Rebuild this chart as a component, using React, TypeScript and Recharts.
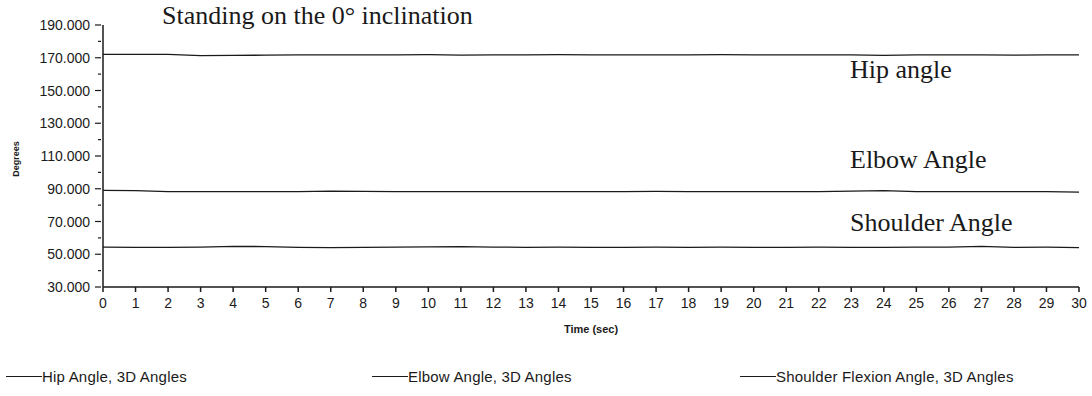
import { LineChart, Line, XAxis, YAxis, Legend } from "recharts";

// time in seconds
const seconds = [
  0, 1, 2, 3, 4, 5, 6, 7, 8, 9, 10, 11, 12, 13, 14, 15, 16, 17, 18, 19, 20,
  21, 22, 23, 24, 25, 26, 27, 28, 29, 30,
];

// joint angles in degrees
const hipAngle = [
  172.0, 172.1, 172.1, 171.3, 171.4, 171.6, 171.7, 171.8, 171.7, 171.8, 171.9,
  171.6, 171.8, 171.8, 171.9, 171.7, 171.8, 171.8, 171.7, 171.9, 171.8, 171.7,
  171.8, 171.8, 171.5, 171.7, 171.8, 171.7, 171.6, 171.8, 171.7,
];
const elbowAngle = [
  89.0, 88.9, 88.3, 88.2, 88.2, 88.3, 88.3, 88.6, 88.4, 88.3, 88.3, 88.2, 88.3,
  88.2, 88.3, 88.3, 88.2, 88.4, 88.3, 88.2, 88.3, 88.2, 88.3, 88.6, 88.9, 88.3,
  88.2, 88.3, 88.2, 88.2, 88.0,
];
const shoulderAngle = [
  54.3, 54.2, 54.2, 54.3, 54.8, 54.7, 54.2, 54.1, 54.2, 54.3, 54.5, 54.7, 54.4,
  54.2, 54.3, 54.2, 54.2, 54.3, 54.2, 54.3, 54.2, 54.2, 54.3, 54.2, 54.2, 54.3,
  54.4, 54.8, 54.2, 54.3, 54.1,
];

const yTicks = [30, 40, 50, 60, 70, 80, 90, 100, 110, 120, 130, 140, 150, 160, 170, 180, 190];
const yLabelled = [30, 50, 70, 90, 110, 130, 150, 170, 190];

const legendNames = [
  "Hip Angle, 3D Angles",
  "Elbow Angle, 3D Angles",
  "Shoulder Flexion Angle, 3D Angles",
];
const legendX = [6, 372, 740];

const data = seconds.map((t, i) => ({
  t,
  hip: hipAngle[i],
  elbow: elbowAngle[i],
  shoulder: shoulderAngle[i],
}));

const INK = "#1a1a1a";
const SANS = "'Liberation Sans', Arial, sans-serif";
const SERIF = "'Liberation Serif', 'Times New Roman', serif";

function YTick(props: any) {
  const { x, y, payload } = props;
  const major = yLabelled.includes(payload.value);
  const axisX = x + 6;
  return (
    <g>
      <line x1={axisX - (major ? 6 : 3)} x2={axisX} y1={y} y2={y} stroke={INK} strokeWidth={1.2} />
      {major && (
        <text x={axisX - 11} y={y} dy={5} textAnchor="end" fontSize={14} fontFamily={SANS} fill={INK}>
          {payload.value.toFixed(3)}
        </text>
      )}
    </g>
  );
}

function DegreesLabel(props: any) {
  const { viewBox } = props;
  const cy = viewBox.y + viewBox.height / 2 + 3;
  return (
    <text
      x={19}
      y={cy}
      transform={`rotate(-90 19 ${cy})`}
      textAnchor="middle"
      fontSize={9}
      fontWeight="bold"
      fontFamily={SANS}
      fill={INK}
    >
      Degrees
    </text>
  );
}

function LegendRow() {
  return (
    <div style={{ position: "relative", width: 1092, height: 30 }}>
      {legendNames.map((name, i) => (
        <div
          key={name}
          style={{
            position: "absolute",
            left: legendX[i],
            top: 2,
            display: "flex",
            alignItems: "center",
            fontFamily: SANS,
            fontSize: 15,
            letterSpacing: 0.2,
            color: INK,
          }}
        >
          <span style={{ display: "inline-block", width: 36, height: 1, background: INK }} />
          {name}
        </div>
      ))}
    </div>
  );
}

const serifText = {
  position: "absolute" as const,
  fontFamily: SERIF,
  fontSize: 26,
  color: INK,
  whiteSpace: "nowrap" as const,
  lineHeight: 1,
};

export default function App() {
  return (
    <div style={{ position: "absolute", left: 0, top: 0, width: 1092, height: 396, background: "#fff" }}>
      <LineChart width={1092} height={396} data={data} margin={{ top: 25, right: 13, bottom: 0, left: 0 }}>
        <XAxis
          dataKey="t"
          type="number"
          domain={[0, 30]}
          ticks={seconds}
          interval={0}
          height={79}
          stroke={INK}
          strokeWidth={1.5}
          tickSize={5}
          tickMargin={6}
          tick={{ fontSize: 14, fontFamily: SANS, fill: INK }}
          label={{
            value: "Time (sec)",
            position: "insideTop",
            offset: 38,
            fontSize: 11,
            fontWeight: "bold",
            fontFamily: SANS,
            fill: INK,
          }}
        />
        <YAxis
          type="number"
          domain={[30, 190]}
          ticks={yTicks}
          interval={0}
          width={103}
          stroke={INK}
          strokeWidth={1.5}
          tickLine={false}
          tick={<YTick />}
          label={<DegreesLabel />}
        />
        <Legend verticalAlign="bottom" content={() => <LegendRow />} />
        <Line type="linear" dataKey="hip" stroke={INK} strokeWidth={1.3} dot={false} isAnimationActive={false} />
        <Line type="linear" dataKey="elbow" stroke={INK} strokeWidth={1.3} dot={false} isAnimationActive={false} />
        <Line type="linear" dataKey="shoulder" stroke={INK} strokeWidth={1.3} dot={false} isAnimationActive={false} />
      </LineChart>
      <div style={{ ...serifText, left: 162, top: 3 }}>Standing on the 0° inclination</div>
      <div style={{ ...serifText, left: 850, top: 57 }}>Hip angle</div>
      <div style={{ ...serifText, left: 850, top: 147 }}>Elbow Angle</div>
      <div style={{ ...serifText, left: 850, top: 210 }}>Shoulder Angle</div>
    </div>
  );
}
